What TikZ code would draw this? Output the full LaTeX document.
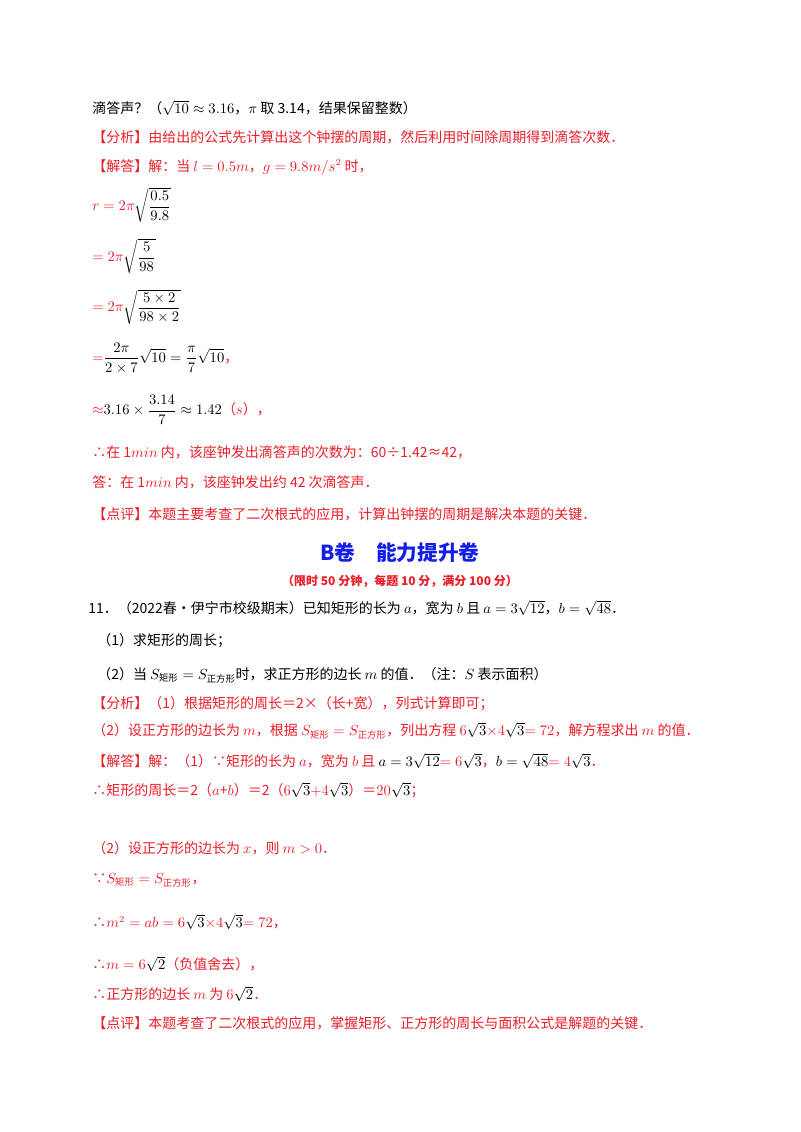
\documentclass[tikz,border=0pt]{standalone}
\usepackage{fontspec}
\setmainfont{Noto Sans CJK SC}
\usepackage{amsmath,amssymb}
\definecolor{rd}{RGB}{235,30,40}
\definecolor{bl}{RGB}{20,30,230}
\tikzset{t/.style={anchor=west,inner sep=0pt,font=\fontsize{10.5}{12}\selectfont},
r/.style={t,text=rd}}
\begin{document}
\begin{tikzpicture}[x=0.75pt,y=-0.75pt]
\useasboundingbox[fill=white] (0,0) rectangle (800,1132);
\node[t] (a1) at (92,108) {滴答声？（$\sqrt{10}\approx3.16$，$\pi$ 取 3.14，结果保留整数）};
\node[r] (a2) at (92,137) {【分析】由给出的公式先计算出这个钟摆的周期，然后利用时间除周期得到滴答次数．};
\node[r] (a3) at (92,167) {【解答】解：当 $l=0.5m$，$g=9.8m/s^2$ 时，};
\node[r] (a4) at (92,205) {$r=2\pi$\textcolor{black}{$\sqrt{\dfrac{0.5}{9.8}}$}};
\node[r] (a5) at (92,256) {$=2\pi$\textcolor{black}{$\sqrt{\dfrac{5}{98}}$}};
\node[r] (a6) at (92,307) {$=2\pi$\textcolor{black}{$\sqrt{\dfrac{5\times2}{98\times2}}$}};
\node[r] (a7) at (92,358) {$=$\textcolor{black}{$\dfrac{2\pi}{2\times7}\sqrt{10}=\dfrac{\pi}{7}\sqrt{10}$}，};
\node[r] (a8) at (92,410) {$\approx$\textcolor{black}{$3.16\times\dfrac{3.14}{7}\approx1.42$}（$s$），};
\node[r] (a9) at (92,452) {∴在 1$min$ 内，该座钟发出滴答声的次数为：60÷1.42≈42，};
\node[r] (a10) at (92,482) {答：在 1$min$ 内，该座钟发出约 42 次滴答声．};
\node[r] (a11) at (92,514) {【点评】本题主要考查了二次根式的应用，计算出钟摆的周期是解决本题的关键．};
\node[anchor=center,text=bl,font=\fontsize{15.5}{18}\selectfont\bfseries] (ti) at (400,553) {B卷\quad 能力提升卷};
\node[anchor=center,inner sep=0pt,text=rd,font=\fontsize{9}{11}\selectfont\bfseries] (ti2) at (400,581) {（限时 50 分钟，每题 10 分，满分 100 分）};
\node[t] (b1) at (88,608) {11．（2022春•伊宁市校级期末）已知矩形的长为 $a$，宽为 $b$ 且 $a=3\sqrt{12}$，$b=\sqrt{48}$．};
\node[t] (b2) at (97,641) {（1）求矩形的周长；};
\node[t] (b3) at (97,675) {（2）当 $S_{\text{\fontsize{7}{8}\selectfont 矩形}}=S_{\text{\fontsize{7}{8}\selectfont 正方形}}$时，求正方形的边长 $m$ 的值．（注：$S$ 表示面积）};
\node[r] (b4) at (92,704) {【分析】（1）根据矩形的周长＝2×（长+宽），列式计算即可；};
\node[r] (b5) at (92,731) {（2）设正方形的边长为 $m$，根据 $S_{\text{\fontsize{7}{8}\selectfont 矩形}}=S_{\text{\fontsize{7}{8}\selectfont 正方形}}$，列出方程 $6$\textcolor{black}{$\sqrt3$}$\times4$\textcolor{black}{$\sqrt3$}$=72$，解方程求出 $m$ 的值．};
\node[r] (b6) at (92,761) {【解答】解：（1）∵矩形的长为 $a$，宽为 $b$ 且 \textcolor{black}{$a=3\sqrt{12}$}$=6$\textcolor{black}{$\sqrt3$}，\textcolor{black}{$b=\sqrt{48}$}$=4$\textcolor{black}{$\sqrt3$}．};
\node[r] (b7) at (92,790) {∴矩形的周长＝2（$a$+$b$）＝2（$6$\textcolor{black}{$\sqrt3$}$+4$\textcolor{black}{$\sqrt3$}）＝$20$\textcolor{black}{$\sqrt3$}；};
\node[r] (b8) at (92,848) {（2）设正方形的边长为 $x$，则 $m>0$．};
\node[r] (b9) at (92,880) {∵$S_{\text{\fontsize{7}{8}\selectfont 矩形}}=S_{\text{\fontsize{7}{8}\selectfont 正方形}}$，};
\node[r] (b10) at (92,922) {∴$m^2=ab=6$\textcolor{black}{$\sqrt3$}$\times4$\textcolor{black}{$\sqrt3$}$=72$，};
\node[r] (b11) at (92,964) {∴$m=6$\textcolor{black}{$\sqrt2$}（负值舍去），};
\node[r] (b12) at (92,994) {∴正方形的边长 $m$ 为 $6$\textcolor{black}{$\sqrt2$}．};
\node[r] (b13) at (92,1023) {【点评】本题考查了二次根式的应用，掌握矩形、正方形的周长与面积公式是解题的关键．};
\end{tikzpicture}
\end{document}
